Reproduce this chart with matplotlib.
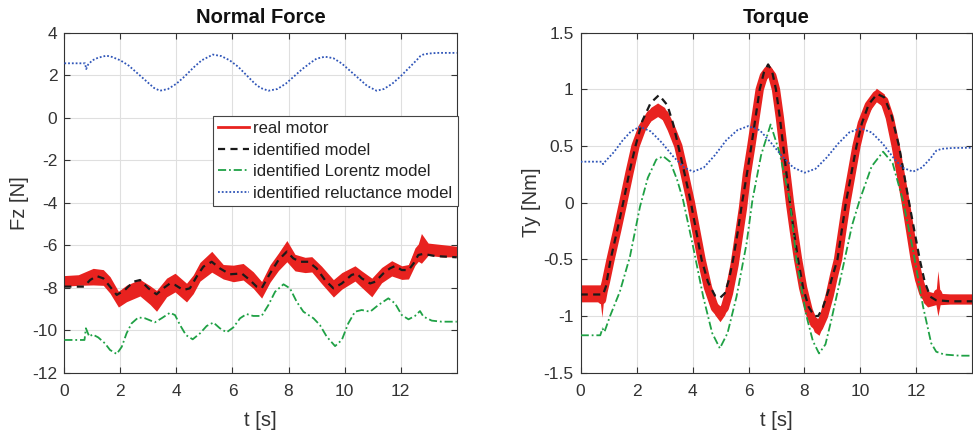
import numpy as np
import matplotlib
matplotlib.use("Agg")
import matplotlib.pyplot as plt

plt.rcParams["font.family"] = ["Liberation Sans", "DejaVu Sans"]

# ---------------- Normal force panel ----------------
fz_real_t = [0, 0.5, 1.03, 1.39, 1.63, 1.93, 2.22, 2.7, 3.06, 3.29, 3.65, 3.95, 4.36,
             4.6, 4.84, 5.26, 5.67, 6.03, 6.38, 6.74, 7.04, 7.34, 7.64, 7.94, 8.23,
             8.59, 8.83, 9.18, 9.6, 9.9, 10.37, 10.61, 10.97, 11.32, 11.68, 12.04,
             12.28, 12.51, 12.63, 12.74, 12.98, 13.46, 14.0]
fz_real_mid = [-7.68, -7.64, -7.48, -7.52, -7.87, -8.54, -8.27, -8.0, -8.35, -8.62,
               -7.99, -7.76, -8.23, -7.84, -7.25, -6.78, -7.25, -7.33, -7.25, -7.64,
               -8.1, -7.33, -6.78, -6.28, -6.82, -6.93, -6.9, -7.4, -8.03, -7.68, -7.33,
               -7.6, -7.99, -7.41, -7.09, -7.29, -7.25, -6.54, -6.35, -6.15, -6.19,
               -6.26, -6.3]
fz_real_spread = [0.25, 0.25, 0.39, 0.37, 0.39, 0.37, 0.39, 0.39, 0.44, 0.49, 0.44,
                  0.44, 0.44, 0.44, 0.44, 0.49, 0.34, 0.39, 0.39, 0.39, 0.39, 0.41, 0.41,
                  0.5, 0.39, 0.36, 0.36, 0.41, 0.41, 0.39, 0.36, 0.39, 0.44, 0.36, 0.36,
                  0.32, 0.34, 0.41, 0.41, 0.7, 0.29, 0.29, 0.25]

fz_model_t = [0, 0.7, 0.92, 1.15, 1.39, 1.63, 1.87, 2.16, 2.46, 2.7, 3.0, 3.29, 3.53,
              3.77, 3.95, 4.24, 4.48, 4.72, 4.96, 5.26, 5.55, 5.91, 6.33, 6.62, 6.86,
              7.04, 7.34, 7.64, 7.94, 8.17, 8.41, 8.71, 9.0, 9.3, 9.6, 9.9, 10.25, 10.43,
              10.61, 10.91, 11.09, 11.38, 11.62, 11.8, 12.04, 12.28, 12.46, 12.63, 12.81,
              13.23, 14.0]
fz_model = [-7.95, -7.95, -7.64, -7.45, -7.56, -7.95, -8.34, -8.11, -7.72, -7.64, -8.03,
            -8.31, -8.03, -7.8, -7.87, -8.11, -8.03, -7.48, -7.01, -6.78, -7.09, -7.37,
            -7.33, -7.64, -7.95, -8.03, -7.33, -6.7, -6.3, -6.62, -6.78, -6.78, -7.09,
            -7.64, -8.03, -7.8, -7.4, -7.33, -7.56, -7.8, -7.72, -7.33, -7.09, -6.98,
            -7.17, -7.17, -6.86, -6.46, -6.41, -6.51, -6.57]

fz_lor_t = [0, 0.72, 0.77, 0.89, 1.01, 1.21, 1.45, 1.63, 1.87, 2.05, 2.22, 2.4, 2.64,
            2.88, 3.23, 3.47, 3.77, 3.95, 4.13, 4.34, 4.58, 4.84, 5.08, 5.32, 5.55,
            5.79, 6.03, 6.27, 6.5, 6.74, 7.04, 7.28, 7.52, 7.82, 8.05, 8.29, 8.53,
            8.89, 9.12, 9.36, 9.66, 9.9, 10.13, 10.37, 10.61, 10.91, 11.2, 11.56, 11.8,
            12.04, 12.28, 12.51, 12.69, 12.81, 13.11, 13.46, 14.0]
fz_lor = [-10.46, -10.46, -9.91, -10.3, -10.2, -10.34, -10.62, -10.93, -11.12, -10.78,
          -10.15, -9.68, -9.4, -9.44, -9.63, -9.44, -9.18, -9.29, -9.76, -10.23, -10.43,
          -10.15, -9.8, -9.64, -9.91, -10.1, -9.87, -9.44, -9.24, -9.33, -9.33, -8.82,
          -8.19, -7.84, -8.03, -8.66, -9.13, -9.44, -9.76, -10.3, -10.75, -10.46, -9.68,
          -9.13, -9.05, -9.13, -8.82, -8.5, -8.74, -9.29, -9.49, -9.33, -9.1, -9.36,
          -9.55, -9.6, -9.6]

fz_rel_t = [0, 0.74, 0.78, 0.85, 1.0, 1.2, 1.5, 1.7, 2.0, 2.3, 2.6, 2.9, 3.2, 3.41,
            3.7, 4.0, 4.3, 4.6, 4.9, 5.3, 5.6, 5.9, 6.2, 6.5, 6.8, 7.0, 7.28, 7.6, 7.9,
            8.2, 8.5, 8.8, 9.0, 9.3, 9.6, 9.9, 10.2, 10.5, 10.8, 11.14, 11.4, 11.7,
            12.0, 12.3, 12.6, 12.7, 12.8, 13.0, 13.3, 14.0]
fz_rel = [2.56, 2.56, 2.29, 2.5, 2.7, 2.82, 2.92, 2.86, 2.7, 2.45, 2.1, 1.75, 1.4, 1.27,
          1.35, 1.6, 1.95, 2.35, 2.7, 2.97, 2.9, 2.7, 2.4, 2.0, 1.6, 1.4, 1.27, 1.35, 1.6,
          1.95, 2.3, 2.6, 2.78, 2.87, 2.8, 2.55, 2.2, 1.85, 1.5, 1.27, 1.35, 1.6, 1.95,
          2.35, 2.75, 2.9, 2.97, 3.02, 3.05, 3.05]

# ---------------- Torque panel ----------------
ty_real_t = [0, 0.4, 0.7, 0.76, 0.82, 0.9, 1.07, 1.3, 1.52, 1.75, 1.96, 2.2, 2.5, 2.75,
             3.0, 3.25, 3.49, 3.72, 3.94, 4.13, 4.32, 4.55, 4.8, 4.98, 5.15, 5.3, 5.5,
             5.65, 5.8, 5.94, 6.1, 6.25, 6.4, 6.55, 6.7, 6.85, 6.98, 7.12, 7.24, 7.36,
             7.48, 7.62, 7.77, 7.95, 8.15, 8.35, 8.52, 8.7, 8.9, 9.05, 9.2, 9.35, 9.5,
             9.68, 9.86, 10.05, 10.3, 10.57, 10.85, 11.05, 11.26, 11.44, 11.62, 11.78,
             11.94, 12.1, 12.25, 12.4, 12.7, 12.77, 12.85, 13.2, 13.7, 14.0]
ty_real_mid = [-0.8, -0.8, -0.8, -0.86, -0.78, -0.7, -0.5, -0.25, 0.0, 0.27, 0.5, 0.66,
               0.78, 0.82, 0.78, 0.65, 0.5, 0.25, 0.0, -0.25, -0.5, -0.75, -0.93, -0.98,
               -0.93, -0.8, -0.55, -0.3, -0.05, 0.25, 0.5, 0.75, 1.0, 1.12, 1.17, 1.12,
               1.0, 0.75, 0.5, 0.25, 0.0, -0.25, -0.5, -0.75, -0.95, -1.07, -1.1, -1.0,
               -0.82, -0.65, -0.5, -0.25, 0.0, 0.25, 0.5, 0.7, 0.86, 0.95, 0.9, 0.75, 0.5,
               0.25, 0.0, -0.25, -0.5, -0.68, -0.8, -0.85, -0.85, -0.8, -0.85, -0.85,
               -0.85, -0.85]
ty_real_spread = [0.075, 0.075, 0.075, 0.15, 0.075, 0.05, 0.045, 0.045, 0.045, 0.045,
                  0.045, 0.05, 0.06, 0.06, 0.06, 0.05, 0.045, 0.045, 0.045, 0.045,
                  0.045, 0.05, 0.06, 0.07, 0.06, 0.05, 0.045, 0.045, 0.045, 0.045,
                  0.045, 0.045, 0.05, 0.06, 0.06, 0.06, 0.05, 0.045, 0.045, 0.045,
                  0.045, 0.045, 0.045, 0.05, 0.06, 0.07, 0.07, 0.06, 0.05, 0.045, 0.045,
                  0.045, 0.045, 0.045, 0.045, 0.05, 0.06, 0.06, 0.06, 0.05, 0.045,
                  0.045, 0.045, 0.045, 0.05, 0.06, 0.08, 0.07, 0.05, 0.2, 0.05, 0.045,
                  0.045, 0.045]

ty_model_t = [0, 0.8, 0.9, 1.07, 1.3, 1.52, 1.75, 1.96, 2.2, 2.5, 2.8, 3.1, 3.3, 3.49,
              3.72, 3.94, 4.13, 4.32, 4.55, 4.8, 4.98, 5.15, 5.3, 5.45, 5.62, 5.77, 5.94,
              6.1, 6.25, 6.4, 6.55, 6.7, 6.85, 6.98, 7.12, 7.24, 7.36, 7.48, 7.62, 7.77,
              7.95, 8.15, 8.35, 8.49, 8.65, 8.85, 9.0, 9.18, 9.33, 9.48, 9.67, 9.86,
              10.05, 10.3, 10.6, 10.85, 11.1, 11.38, 11.56, 11.74, 11.93, 12.12, 12.3,
              12.5, 12.7, 13.2, 14.0]
ty_model = [-0.81, -0.81, -0.74, -0.5, -0.25, 0.0, 0.28, 0.5, 0.72, 0.88, 0.95, 0.86,
            0.7, 0.5, 0.25, 0.0, -0.25, -0.5, -0.7, -0.82, -0.84, -0.8, -0.68, -0.5,
            -0.25, 0.0, 0.25, 0.5, 0.75, 1.0, 1.15, 1.22, 1.15, 1.0, 0.75, 0.5, 0.25,
            0.0, -0.25, -0.5, -0.75, -0.92, -1.0, -1.0, -0.93, -0.78, -0.65, -0.5, -0.25,
            0.0, 0.25, 0.5, 0.7, 0.87, 0.96, 0.93, 0.78, 0.5, 0.25, 0.0, -0.25, -0.5,
            -0.7, -0.83, -0.86, -0.87, -0.87]

ty_lor_t = [0, 0.7, 0.78, 0.85, 1.05, 1.4, 1.76, 2.12, 2.4, 2.7, 2.95, 3.2, 3.45, 3.66,
            4.02, 4.38, 4.7, 4.975, 5.25, 5.57, 5.93, 6.14, 6.45, 6.79, 7.1, 7.475, 7.71,
            8.07, 8.3, 8.52, 8.75, 8.96, 9.38, 9.7, 9.975, 10.4, 10.81, 11.15, 11.52,
            11.88, 12.24, 12.53, 12.71, 13.0, 13.55, 14.0]
ty_lor = [-1.17, -1.17, -1.11, -1.14, -1.0, -0.785, -0.477, -0.035, 0.22, 0.38, 0.41,
          0.36, 0.2, 0.024, -0.39, -0.83, -1.15, -1.285, -1.15, -0.83, -0.36, 0.024, 0.42,
          0.69, 0.45, 0.024, -0.5, -1.0, -1.22, -1.33, -1.25, -1.035, -0.565, -0.2,
          0.024, 0.32, 0.45, 0.35, 0.02, -0.417, -0.918, -1.24, -1.315, -1.34, -1.35,
          -1.35]

ty_rel_t = [0, 0.75, 0.8, 0.9, 1.2, 1.5, 1.8, 2.12, 2.5, 2.9, 3.3, 3.7, 4.02, 4.4, 4.8,
            5.2, 5.6, 5.99, 6.4, 6.8, 7.2, 7.6, 8.01, 8.4, 8.8, 9.2, 9.6, 10.0, 10.4,
            10.8, 11.2, 11.5, 11.88, 12.2, 12.5, 12.71, 12.9, 13.3, 14.0]
ty_rel = [0.362, 0.362, 0.34, 0.37, 0.45, 0.55, 0.63, 0.67, 0.63, 0.53, 0.41, 0.31,
          0.274, 0.31, 0.42, 0.55, 0.64, 0.676, 0.64, 0.53, 0.41, 0.31, 0.265, 0.3, 0.4,
          0.52, 0.62, 0.656, 0.62, 0.52, 0.39, 0.31, 0.274, 0.31, 0.39, 0.459, 0.475,
          0.483, 0.485]

legend_labels = ["real motor", "identified model", "identified Lorentz model",
                 "identified reluctance model"]

RED = "#E8221F"
BLACK = "#1a1a1a"
GREEN = "#1FA145"
BLUE = "#2F55B8"
AX_COLOR = "#333333"

DASH = (0, (3.2, 2.4))
DASHDOT = (0, (4.5, 1.6, 1, 1.6))
DOT = (0, (1, 1.1))

fig = plt.figure(figsize=(9.73, 4.32), dpi=100)
ax1 = fig.add_axes([0.0661, 0.1373, 0.4033, 0.787])
ax2 = fig.add_axes([0.5968, 0.1373, 0.4025, 0.787])


def draw_panel(ax, real_t, real_mid, real_spread, model_t, model, lor_t, lor, rel_t, rel,
               red_lw):
    mid = np.asarray(real_mid)
    spread = np.asarray(real_spread)
    ax.fill_between(real_t, mid - spread, mid + spread, color=RED, lw=0, zorder=2)
    ax.plot(real_t, mid, color=RED, lw=red_lw, zorder=2, solid_joinstyle="round")
    ax.plot(model_t, model, color=BLACK, lw=1.6, ls=DASH, zorder=3)
    ax.plot(lor_t, lor, color=GREEN, lw=1.3, ls=DASHDOT, zorder=3)
    ax.plot(rel_t, rel, color=BLUE, lw=1.3, ls=DOT, zorder=3)


def style_axes(ax, title, ylabel, ylim, yticks, yticklabels):
    ax.set_xlim(0, 14)
    ax.set_ylim(*ylim)
    ax.set_xticks([0, 2, 4, 6, 8, 10, 12])
    ax.set_yticks(yticks)
    ax.set_yticklabels(yticklabels)
    ax.grid(True, color="#dfdfdf", lw=0.8, zorder=0)
    ax.set_axisbelow(True)
    ax.tick_params(direction="in", length=4, width=0.8, colors=AX_COLOR, labelsize=12.5,
                   top=True, right=True)
    ax.tick_params(axis="x", pad=8)
    ax.tick_params(axis="y", pad=5)
    for s in ax.spines.values():
        s.set_color(AX_COLOR)
        s.set_linewidth(0.8)
    ax.set_title(title, fontsize=14.5, fontweight="bold", color="#111111", pad=7)
    ax.set_xlabel("t [s]", fontsize=14.5, color=AX_COLOR, labelpad=9)
    ax.set_ylabel(ylabel, fontsize=14.5, color=AX_COLOR, labelpad=2)


draw_panel(ax1, fz_real_t, fz_real_mid, fz_real_spread, fz_model_t, fz_model,
           fz_lor_t, fz_lor, fz_rel_t, fz_rel, red_lw=3)
draw_panel(ax2, ty_real_t, ty_real_mid, ty_real_spread, ty_model_t, ty_model,
           ty_lor_t, ty_lor, ty_rel_t, ty_rel, red_lw=6)

style_axes(ax1, "Normal Force", "Fz [N]", (-12, 4), range(-12, 5, 2),
           [str(v) for v in range(-12, 5, 2)])
style_axes(ax2, "Torque", "Ty [Nm]", (-1.5, 1.5), [-1.5, -1, -0.5, 0, 0.5, 1, 1.5],
           ["-1.5", "-1", "-0.5", "0", "0.5", "1", "1.5"])

leg_handles = [
    plt.Line2D([], [], color=RED, lw=2),
    plt.Line2D([], [], color=BLACK, lw=1.6, ls=DASH),
    plt.Line2D([], [], color=GREEN, lw=1.3, ls=DASHDOT),
    plt.Line2D([], [], color=BLUE, lw=1.3, ls=DOT),
]
leg = ax1.legend(leg_handles, legend_labels, loc="upper left",
                 bbox_to_anchor=(0.38, 0.755), borderaxespad=0, fontsize=12,
                 handlelength=1.85, handletextpad=0.25, labelspacing=0.4,
                 borderpad=0.3, fancybox=False, framealpha=1, edgecolor="#444444")
leg.get_frame().set_linewidth(0.8)
for txt in leg.get_texts():
    txt.set_color("#222222")

fig.savefig("out.png", dpi=100)
